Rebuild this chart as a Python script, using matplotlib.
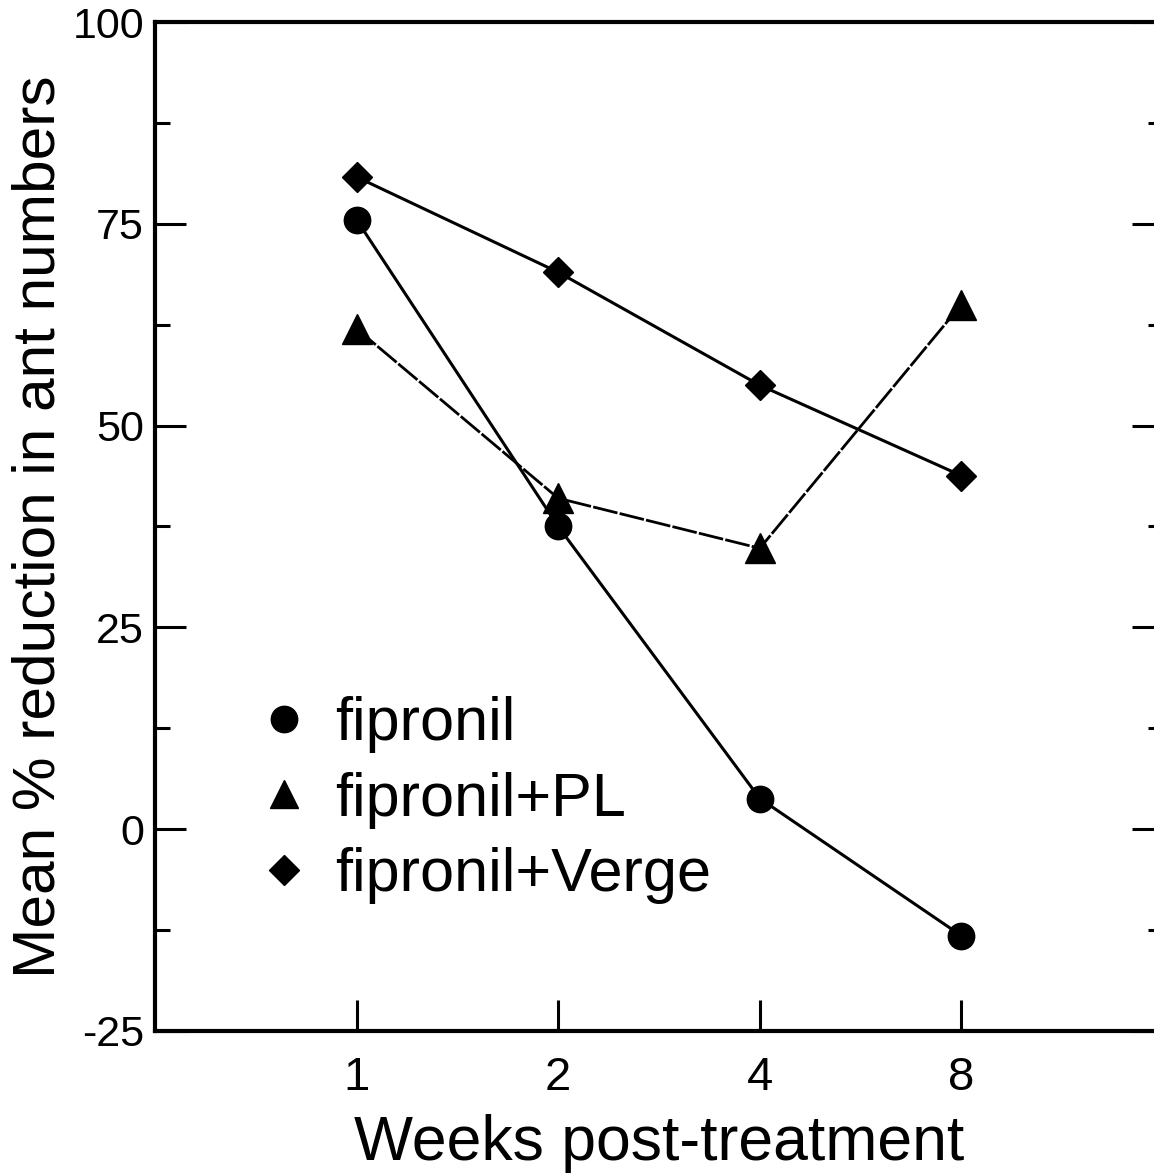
import matplotlib
matplotlib.use("Agg")
import matplotlib.pyplot as plt
from matplotlib.lines import Line2D

weeks = ["1", "2", "4", "8"]
fipronil = [75.5, 37.5, 3.8, -13.2]
fipronil_pl = [62.0, 41.0, 34.8, 65.0]
fipronil_verge = [80.8, 69.0, 55.0, 43.8]

plt.rcParams['font.family'] = ['Liberation Sans', 'DejaVu Sans']

fig = plt.figure(figsize=(11.54, 11.73), dpi=100)
ax = fig.add_axes([155/1154, 1 - 1031/1173, 1008/1154, (1031 - 22)/1173])

xpos = range(1, len(weeks) + 1)
ax.plot(xpos, fipronil, color='black', lw=2.2, marker='o', ms=19, zorder=3)
ax.plot(xpos, fipronil_pl, color='black', lw=2.0, ls=(0, (9, 0.8)), marker='^', ms=21, zorder=3)
ax.plot(xpos, fipronil_verge, color='black', lw=2.2, marker='D', ms=15, zorder=3)

ax.set_xlim(0, 5)
ax.set_ylim(-25, 100)
ax.set_xticks(list(xpos))
ax.set_xticklabels(weeks)
ax.set_yticks([-25, 0, 25, 50, 75, 100])
ax.set_yticklabels(["-25", "0", "25", "50", "75", "100"])
ax.set_yticks([-12.5, 12.5, 37.5, 62.5, 87.5], minor=True)

ax.spines['right'].set_visible(False)
for s in ['left', 'bottom', 'top']:
    ax.spines[s].set_linewidth(3)

ax.tick_params(axis='y', which='major', direction='in', length=22, width=2.2,
               right=True, labelsize=31, pad=8)
ax.tick_params(axis='y', which='minor', direction='in', length=11, width=2.2, right=True)
ax.tick_params(axis='x', which='major', direction='in', length=22, width=2.2,
               labelsize=34, pad=18)

ax.set_xlabel("Weeks post-treatment", fontsize=45, labelpad=10)
ax.set_ylabel("Mean % reduction in ant numbers", fontsize=43.5, labelpad=4)

handles = [
    Line2D([], [], color='black', ls='none', marker='o', ms=19),
    Line2D([], [], color='black', ls='none', marker='^', ms=20),
    Line2D([], [], color='black', ls='none', marker='D', ms=15),
]
ax.legend(handles, ["fipronil", "fipronil+PL", "fipronil+Verge"],
          loc='upper left', bbox_to_anchor=(0.073, 0.356), frameon=False,
          fontsize=44, handlelength=1.0, handletextpad=0.35,
          labelspacing=0.3, borderaxespad=0)

fig.savefig("out.png", dpi=100)
